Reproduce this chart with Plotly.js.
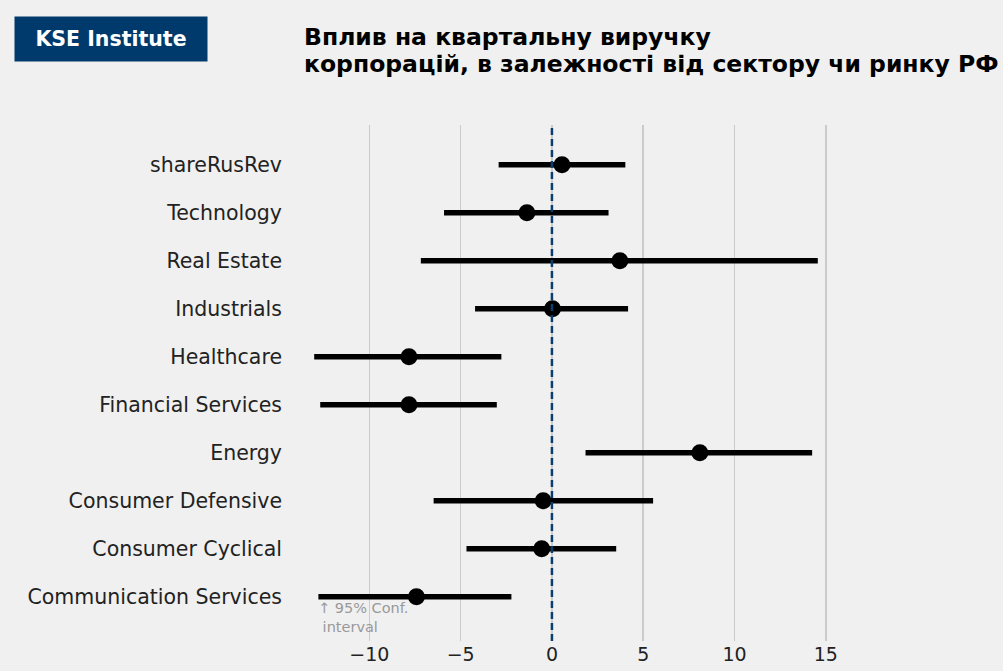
<!DOCTYPE html>
<html>
<head>
<meta charset="utf-8">
<script src="https://cdn.plot.ly/plotly-3.0.1.min.js"></script>
<style>html,body{margin:0;padding:0;background:#f0f0f0;}#chart{width:1003px;height:671px;}</style>
</head>
<body>
<div id="chart"></div>
<script>
// Categories listed bottom-to-top
const categories = ["Communication Services", "Consumer Cyclical", "Consumer Defensive", "Energy",
  "Financial Services", "Healthcare", "Industrials", "Real Estate", "Technology", "shareRusRev"];
const estimate = [-7.42, -0.56, -0.48, 8.10, -7.83, -7.83, 0.03, 3.72, -1.37, 0.55];
const ciLow    = [-12.79, -4.68, -6.48, 1.84, -12.69, -13.02, -4.21, -7.18, -5.91, -2.92];
const ciHigh   = [-2.22, 3.52, 5.54, 14.25, -3.02, -2.77, 4.17, 14.56, 3.10, 4.02];
const xTicks = [-10, -5, 0, 5, 10, 15];
const xTickLabels = ["\u221210", "\u22125", "0", "5", "10", "15"];
const titleLines = ["Вплив на квартальну виручку", "корпорацій, в залежності від сектору чи ринку РФ"];

const errPlus = ciHigh.map((h, i) => h - estimate[i]);
const errMinus = estimate.map((e, i) => e - ciLow[i]);

const trace = {
  type: "scatter",
  mode: "markers",
  x: estimate,
  y: categories,
  marker: {color: "#000000", size: 17},
  error_x: {type: "data", symmetric: false, array: errPlus, arrayminus: errMinus,
            color: "#000000", thickness: 5.5, width: 0},
  hoverinfo: "x+y",
  showlegend: false
};

const T = 125, B = 641, L = 289, R = 843;
const py = (pix) => (B - pix) / (B - T);
const px = (pix) => (pix - L) / (R - L);

const layout = {
  width: 1003, height: 671,
  paper_bgcolor: "#f0f0f0", plot_bgcolor: "#f0f0f0",
  margin: {l: L, r: 1003 - R, t: T, b: 671 - B},
  font: {family: "DejaVu Sans", color: "#222222"},
  xaxis: {
    range: [-14.4, 15.94],
    tickvals: xTicks, ticktext: xTickLabels,
    showgrid: true, gridcolor: "#cbcbcb", gridwidth: 1.5,
    zeroline: false, showline: false, ticks: "",
    tickfont: {family: "DejaVu Sans", size: 19, color: "#222222"},
    fixedrange: true
  },
  yaxis: {
    type: "category",
    categoryorder: "array", categoryarray: categories,
    range: [-0.92, 9.83],
    showgrid: false, zeroline: false, showline: false, ticks: "",
    ticklabelstandoff: 6,
    tickfont: {family: "DejaVu Sans", size: 20.5, color: "#222222"},
    fixedrange: true
  },
  shapes: [{
    type: "line", xref: "x", yref: "paper", x0: 0, x1: 0, y0: 0, y1: 1,
    line: {color: "#0b3d6e", width: 2.5, dash: "7px,4px"}, layer: "above"
  }],
  annotations: [
    {
      text: "<b>KSE Institute</b>", xref: "paper", yref: "paper",
      x: px(14), y: py(39), xanchor: "left", yanchor: "middle",
      showarrow: false, bgcolor: "#003a6c", width: 190, height: 42, borderpad: 1,
      align: "center", valign: "middle",
      font: {family: "DejaVu Sans", size: 20.5, color: "#ffffff"}
    },
    {
      text: "<b>" + titleLines[0] + "</b>", xref: "paper", yref: "paper",
      x: px(303), y: py(37), xanchor: "left", yanchor: "middle", showarrow: false,
      borderpad: 0,
      font: {family: "DejaVu Sans", size: 23.5, color: "#000000"}
    },
    {
      text: "<b>" + titleLines[1] + "</b>", xref: "paper", yref: "paper",
      x: px(303), y: py(64), xanchor: "left", yanchor: "middle", showarrow: false,
      borderpad: 0,
      font: {family: "DejaVu Sans", size: 23.5, color: "#000000"}
    },
    {
      text: "↑ 95% Conf.<br> interval", xref: "x", yref: "y",
      x: -12.9, y: "Communication Services", yshift: -1,
      xanchor: "left", yanchor: "top", align: "left", showarrow: false,
      font: {family: "DejaVu Sans", size: 14.5, color: "#999999"}
    }
  ]
};

Plotly.newPlot("chart", [trace], layout, {displayModeBar: false, staticPlot: true});
</script>
</body>
</html>
